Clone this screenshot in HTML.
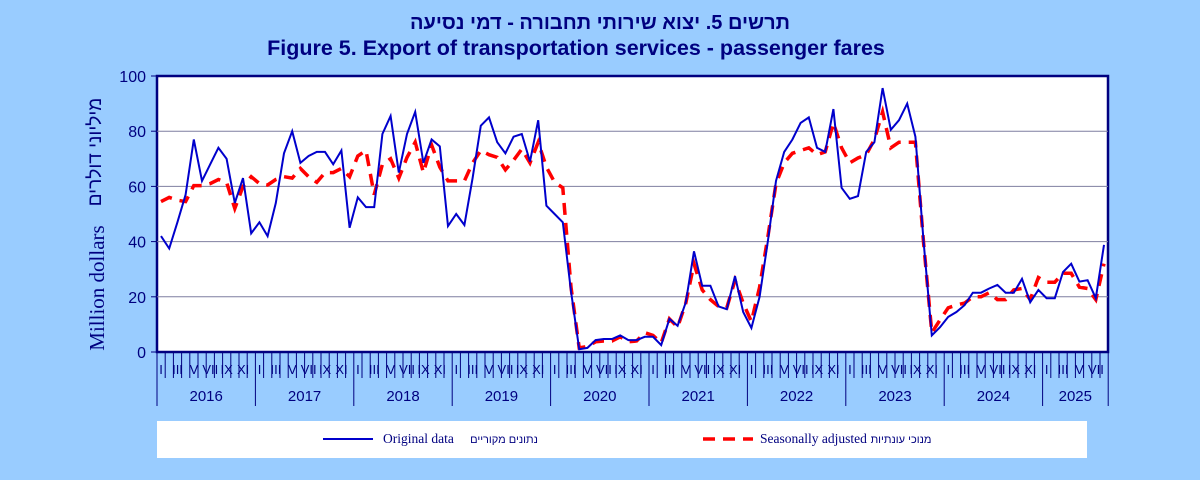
<!DOCTYPE html>
<html><head><meta charset="utf-8"><style>
html,body{margin:0;padding:0;background:#99CCFF;}
svg{display:block;}
</style></head><body>
<svg id="s" width="1200" height="480" xmlns="http://www.w3.org/2000/svg" font-family="Liberation Sans, Arial, sans-serif">
<rect x="0" y="0" width="1200" height="480" fill="#99CCFF"/>
<text x="600" y="29" text-anchor="middle" font-size="20" font-weight="bold" fill="#000080" font-family="Liberation Sans, 'Noto Sans CJK JP', sans-serif" direction="rtl">תרשים 5. יצוא שירותי תחבורה - דמי נסיעה</text>
<text x="576" y="55" text-anchor="middle" font-size="21.5" font-weight="bold" fill="#000080">Figure 5. Export of transportation services - passenger fares</text>
<rect x="157" y="76" width="951" height="276" fill="#fff" stroke="#000080" stroke-width="2.5"/>
<g id="grid" stroke="#7f7fa0" stroke-width="1"></g>
<g id="ylab" font-size="16" fill="#000080" text-anchor="end"></g>
<text transform="translate(104,288) rotate(-90)" font-size="21" fill="#000080" font-family="Liberation Serif, serif" text-anchor="middle">Million dollars</text>
<text transform="translate(101,152) rotate(-90)" font-size="19" fill="#000080" text-anchor="middle" font-family="Liberation Sans, 'Noto Sans CJK JP', sans-serif" direction="rtl">מיליוני דולרים</text>
<g id="xax" stroke="#000080" stroke-width="1"></g>
<g id="mlab" font-size="13" fill="#000080" text-anchor="middle"></g>
<g id="ylbl" font-size="15" fill="#000080" text-anchor="middle"></g>
<polyline id="sa" fill="none" stroke="#FF0000" stroke-width="3.5" stroke-dasharray="12,8"/>
<polyline id="orig" fill="none" stroke="#0000CC" stroke-width="2"/>
<rect x="157" y="421" width="930" height="37" fill="#fff"/>
<line x1="323" y1="439" x2="373" y2="439" stroke="#0000CC" stroke-width="2"/>
<text x="383" y="443" font-size="13.5" fill="#000080" font-family="Liberation Serif, serif">Original data</text>
<text x="504" y="443" font-size="11" fill="#000080" font-family="Liberation Sans, 'Noto Sans CJK JP', sans-serif" text-anchor="middle">נתונים מקוריים</text>
<line x1="703" y1="439" x2="753" y2="439" stroke="#FF0000" stroke-width="3.5" stroke-dasharray="12,8"/>
<text x="760" y="443" font-size="13.5" fill="#000080" font-family="Liberation Serif, serif">Seasonally adjusted</text>
<text x="901" y="443" font-size="11" fill="#000080" font-family="Liberation Sans, 'Noto Sans CJK JP', sans-serif" text-anchor="middle">מנוכי עונתיות</text>
</svg>
<script>
var NS="http://www.w3.org/2000/svg";
function el(p,t,a,txt){var e=document.createElementNS(NS,t);for(var k in a)e.setAttribute(k,a[k]);if(txt!=null)e.textContent=txt;document.getElementById(p).appendChild(e);return e;}
function Y(v){return 352-2.76*v;}
for(var v=20;v<100;v+=20)el("grid","line",{x1:157,x2:1108,y1:Y(v),y2:Y(v)});
for(var v=0;v<=100;v+=20){el("ylab","text",{x:146,y:Y(v)+6},v);el("xax","line",{x1:151,x2:157,y1:Y(v),y2:Y(v)});}
var mw=8.2,x0=157;
for(var i=0;i<=116;i++){var x=x0+i*mw;el("xax","line",{x1:x,x2:x,y1:352,y2:(i%12==0||i==116)?406:378});}
var rn=["I","II","III","IV","V","VI","VII","VIII","IX","X","XI","XII"];
for(var i=0;i<116;i+=2){el("mlab","text",{x:x0+(i+0.5)*mw,y:374},rn[i%12]);}
for(var y=0;y<10;y++){var a=x0+y*12*mw,b=Math.min(x0+(y+1)*12*mw,1108);el("ylbl","text",{x:(a+b)/2,y:401},2016+y);}
var o=[42,37.5,47,57,77,62,68,74,70,54,63,43,47,42,54,72,80,68.5,71,72.5,72.5,68,73,45,56,52.5,52.5,79,85.5,65,79,87,68.5,77,74.5,45.6,50,46,63,82,85,76,72,78,79,69,84,53,50,47,22,1,1.5,4.3,4.7,4.7,6,4.3,4.3,5.5,5.5,2.5,12,9.5,18,36.5,24,24,16.5,15.5,27.5,14.5,8.7,20,40,62,72.5,77,83,85,74,72.5,88,59.5,55.5,56.5,72.5,76,95.6,80.5,84,90,78,40,6,9,12.7,14.5,17,21.5,21.5,23,24.3,21.5,21.5,26.5,18,22.5,19.5,19.5,29,32,25.5,26,19.5,38.8];
var s=[54.5,56,55,54.5,60.3,60.3,61,62.5,61.5,52,60,63.5,61,60.5,62.5,63.5,63,66.5,63.5,61.5,65,65,66.5,63.5,71,73,57,68,70,63,70.5,76,65,75,67,62,62,62,68.5,73,71.5,70.5,66,69.5,73.5,68.5,76,67,61.5,59.5,23.5,1.5,2,3.7,4,4,5.5,3.7,4,7,6,3.3,12,9,17.7,32,22.5,19,16.5,16,26,17.7,11,23.5,41.6,61,68.5,72,73,74,71.5,72.5,83,74,68.5,70.3,71.5,77,87,74,76,76,76,39.5,7,11.6,16,17,17.7,20,20,21.5,19,19,22.5,23,19,27,25.3,25.3,28.5,28.5,23.5,23,19,32];
function pts(a){return a.map(function(v,i){return (161+i*mw).toFixed(1)+","+Y(v).toFixed(1);}).join(" ");}
document.getElementById("orig").setAttribute("points",pts(o));
document.getElementById("sa").setAttribute("points",pts(s));
</script>
</body></html>
